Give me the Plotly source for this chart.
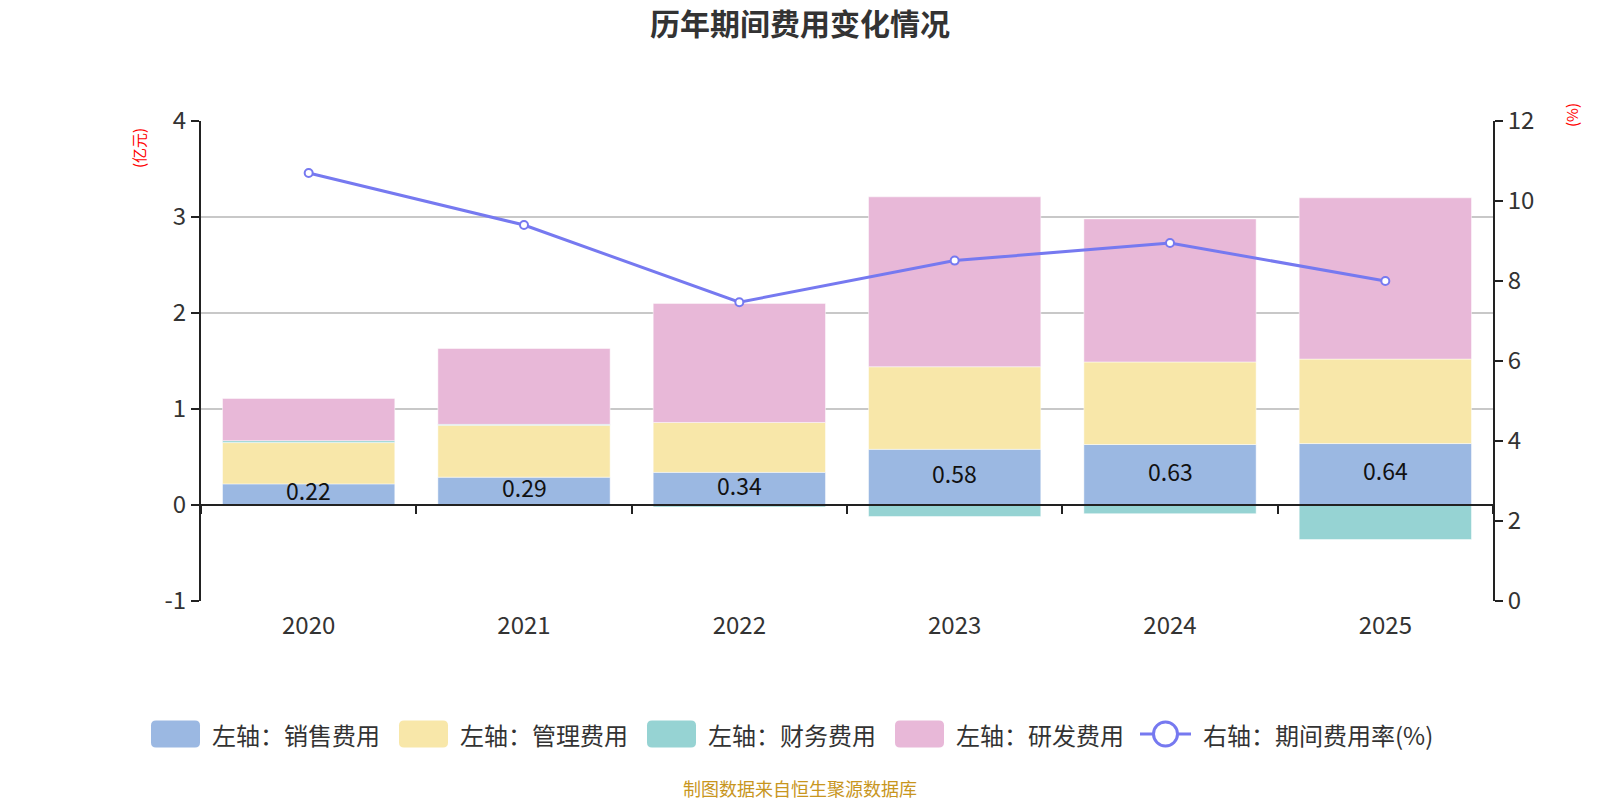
import plotly.graph_objects as go

years = ["2020", "2021", "2022", "2023", "2024", "2025"]
sales = [0.22, 0.29, 0.34, 0.58, 0.63, 0.64]
admin = [0.43, 0.54, 0.52, 0.86, 0.86, 0.88]
finance = [0.02, 0.01, -0.02, -0.12, -0.09, -0.36]
rnd = [0.44, 0.79, 1.24, 1.77, 1.49, 1.68]
rate = [10.7, 9.4, 7.47, 8.51, 8.95, 8.0]
left_ticks = [-1, 0, 1, 2, 3, 4]
left_ticktext = ["-1", "0", "1", "2", "3", "4"]

bar_names = ["左轴：销售费用", "左轴：管理费用", "左轴：财务费用", "左轴：研发费用"]
bar_colors = ["#9bb8e2", "#f8e7a9", "#96d3d3", "#e8b8d8"]
line_name = "右轴：期间费用率(%)"
line_color = "#7679f0"

FONT = "Noto Sans CJK SC"
W, H = 1600, 800
ML, MR, MT, MB = 201, 107, 121, 199
PW, PH = W - ML - MR, H - MT - MB

fig = go.Figure()
common = dict(marker_line_width=0.6, marker_line_color="rgba(255,255,255,0.8)", showlegend=False)
for vals, name, col in zip([sales, admin, finance, rnd], bar_names, bar_colors):
    fig.add_trace(go.Bar(x=years, y=vals, name=name, marker_color=col, **common))
fig.add_trace(go.Scatter(x=years, y=rate, name=line_name, yaxis="y2", mode="lines+markers",
                         showlegend=False,
                         line=dict(color=line_color, width=3),
                         marker=dict(symbol="circle", size=8, color="white",
                                     line=dict(color=line_color, width=2))))

# value labels on the sales segment (category index positions)
for i, v in enumerate(sales):
    fig.add_annotation(x=i, y=v / 2, xref="x", yref="y", text=f"{v:.2f}", showarrow=False,
                       yshift=4, font=dict(size=23, color="#111111", family=FONT))

fig.update_layout(
    width=W, height=H,
    margin=dict(l=ML, r=MR, t=MT, b=MB, autoexpand=False),
    paper_bgcolor="white", plot_bgcolor="white",
    barmode="relative", bargap=0.2,
    font=dict(family=FONT, size=20, color="#333333"),
    title=dict(text="<b>历年期间费用变化情况</b>", x=0.5, xanchor="center", y=1 - 24 / H, yanchor="middle",
               font=dict(size=30, color="#333333", family=FONT)),
    xaxis=dict(type="category", categoryorder="array", categoryarray=years,
               range=[-0.5, len(years) - 0.5],
               anchor="free", position=0.2, showline=True, linecolor="#222222",
               linewidth=2, ticks="outside", tickson="boundaries", ticklen=8, tickwidth=1.5,
               tickcolor="#222222", showgrid=False, ticklabelstandoff=99,
               tickfont=dict(size=24, color="#333333")),
    yaxis=dict(range=[-1, 4], tickvals=left_ticks, ticktext=left_ticktext, showline=True,
               linecolor="#222222", linewidth=2,
               ticks="outside", ticklen=8, tickwidth=2, tickcolor="#222222",
               showgrid=True, gridcolor="#c8c8c8", gridwidth=1.5, zeroline=False,
               tickfont=dict(size=24, color="#333333")),
    yaxis2=dict(range=[0, 12], dtick=2, overlaying="y", side="right", showline=True,
                linecolor="#222222", linewidth=2, ticks="outside", ticklen=8, tickwidth=2,
                tickcolor="#222222", showgrid=False, zeroline=False,
                tickfont=dict(size=24, color="#333333")),
    showlegend=False,
)


def px(x):
    return (x - ML) / PW


def py(y):
    return (H - MB - y) / PH


fig.add_annotation(text="(亿元)", xref="paper", yref="paper", x=px(138), y=py(148), showarrow=False,
                   xanchor="center", yanchor="middle",
                   textangle=-90, font=dict(size=15, color="#ff0000", family=FONT))
fig.add_annotation(text="(%)", xref="paper", yref="paper", x=px(1571), y=py(115), showarrow=False,
                   xanchor="center", yanchor="middle",
                   textangle=-90, font=dict(size=15, color="#ff0000", family=FONT))
fig.add_annotation(text="制图数据来自恒生聚源数据库", xref="paper", yref="paper", x=px(800), y=py(788),
                   xanchor="center", yanchor="middle", showarrow=False,
                   font=dict(size=18, color="#c8961e", family=FONT))

# custom legend (rounded swatches)
LEG_Y = 734
sw_w, sw_h, r = 49, 27, 5
for i, (name, col) in enumerate(zip(bar_names, bar_colors)):
    x0 = 151 + i * 248
    x1 = x0 + sw_w
    y0, y1 = LEG_Y - sw_h / 2, LEG_Y + sw_h / 2
    path = (f"M {px(x0 + r)},{py(y0)} L {px(x1 - r)},{py(y0)} Q {px(x1)},{py(y0)} {px(x1)},{py(y0 + r)} "
            f"L {px(x1)},{py(y1 - r)} Q {px(x1)},{py(y1)} {px(x1 - r)},{py(y1)} "
            f"L {px(x0 + r)},{py(y1)} Q {px(x0)},{py(y1)} {px(x0)},{py(y1 - r)} "
            f"L {px(x0)},{py(y0 + r)} Q {px(x0)},{py(y0)} {px(x0 + r)},{py(y0)} Z")
    fig.add_shape(type="path", path=path, xref="paper", yref="paper", fillcolor=col,
                  line=dict(width=0))
    fig.add_annotation(text=name, xref="paper", yref="paper", x=px(x1 + 10), y=py(LEG_Y),
                       xanchor="left", yanchor="middle", showarrow=False,
                       font=dict(size=24, color="#333333", family=FONT))
lx0 = 151 + 4 * 248 - 3
fig.add_shape(type="line", xref="paper", yref="paper", x0=px(lx0), x1=px(lx0 + 51), y0=py(LEG_Y),
              y1=py(LEG_Y), line=dict(color=line_color, width=3))
cx = lx0 + 25.5
fig.add_shape(type="circle", xref="paper", yref="paper", x0=px(cx - 12), x1=px(cx + 12),
              y0=py(LEG_Y - 12), y1=py(LEG_Y + 12), fillcolor="white",
              line=dict(color=line_color, width=3))
fig.add_annotation(text=line_name, xref="paper", yref="paper", x=px(lx0 + 61), y=py(LEG_Y),
                   xanchor="left", yanchor="middle", showarrow=False,
                   font=dict(size=24, color="#333333", family=FONT))

fig.write_html("out.html")
